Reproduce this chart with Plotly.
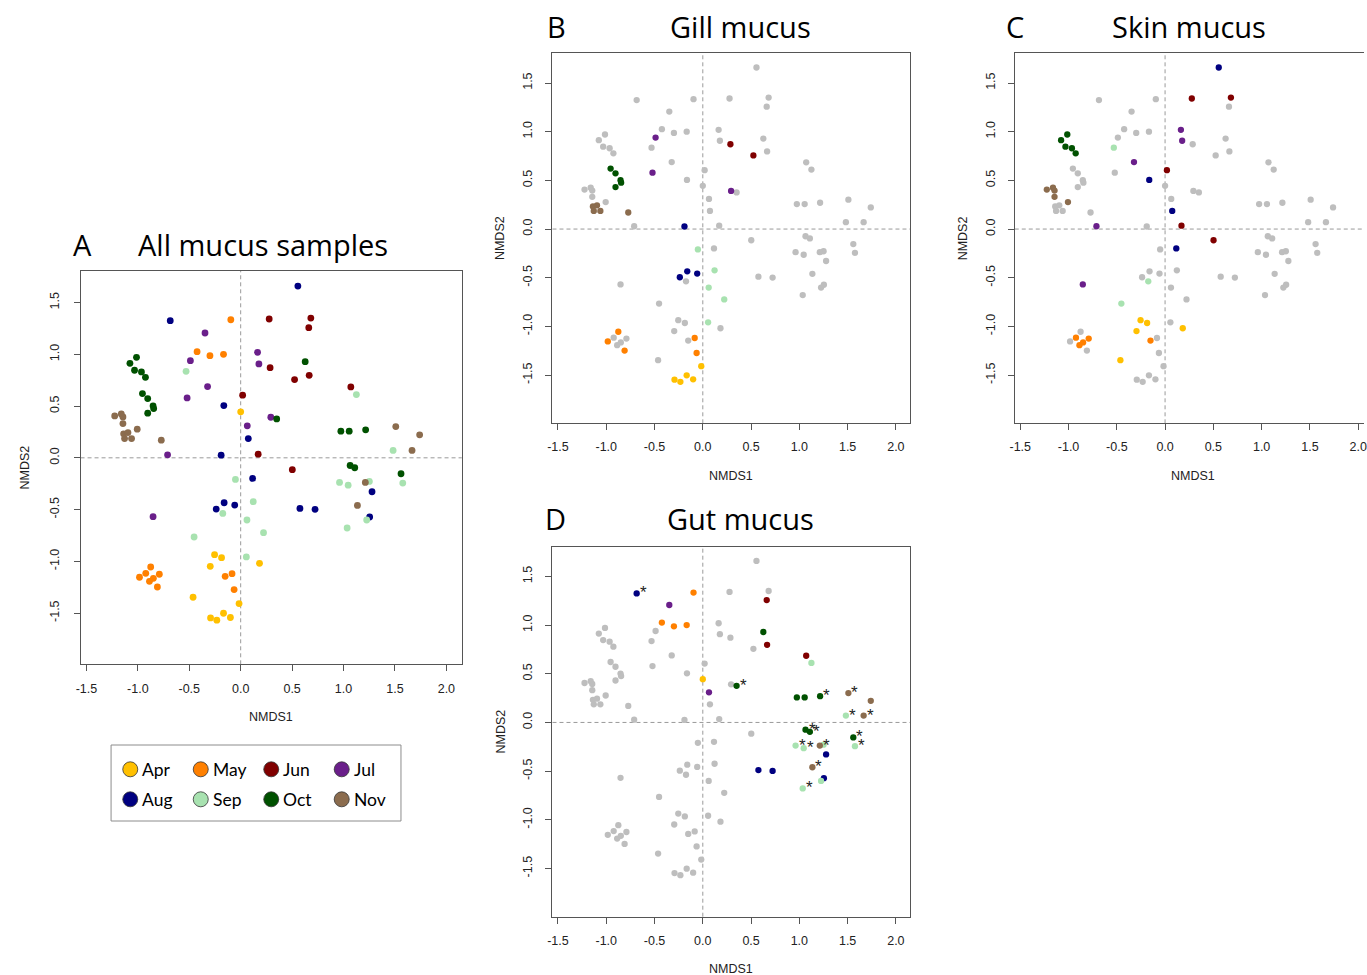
import plotly.graph_objects as go

W, H = 1367, 975

# ---------------- data ----------------
MONTHS = ["Apr", "May", "Jun", "Jul", "Aug", "Sep", "Oct", "Nov"]
MONTH_COLORS = ["#FFC000", "#FF8000", "#800000", "#6A1F8A",
                "#000080", "#A8E2B0", "#005100", "#8B6C4E"]
GREY = "#BEBEBE"

NMDS1 = [
    # Apr
    0.000, -0.254, -0.186, -0.296, 0.183, -0.463, -0.016, -0.167, -0.293, -0.232, -0.100,
    # May
    -0.096, -0.424, -0.299, -0.167, -0.875, -0.984, -0.810, -0.084, -0.064,
    -0.923, -0.887, -0.849, -0.791, -0.151,
    # Jun
    0.286, 0.524, 0.277, 0.682, 0.019, 0.170, 0.502, 0.662, 0.666, 1.071,
    # Jul
    -0.489, -0.521, 0.293, 0.164, 0.177, -0.322, -0.711, -0.852, -0.347, 0.064,
    # Aug
    -0.190, -0.161, -0.058, -0.238, 0.556, -0.164, 0.074, 0.116,
    -0.685, 0.576, 0.723, 1.277, 1.254,
    # Sep
    -0.051, 0.122, 0.061, 0.222, 0.055, -0.531, -0.174, -0.453,
    1.125, 1.482, 0.961, 1.045, 1.251, 1.576, 1.225, 1.035,
    # Oct
    -1.013, -1.077, -1.032, -0.965, -0.926, -0.955, -0.904, -0.852, -0.846, -0.904,
    0.627, 0.350, 0.974, 1.055, 1.215, 1.064, 1.109, 1.559,
    # Nov
    -1.225, -1.161, -1.145, -1.145, -1.006, -1.138, -1.096, -1.129, -1.061, -0.772,
    1.508, 1.740, 1.666, 1.212, 1.135,
]
NMDS2 = [
    # Apr
    0.444, -0.936, -0.965, -1.048, -1.019, -1.347, -1.408, -1.502, -1.547, -1.569, -1.543,
    # May
    1.334, 1.026, 0.987, 1.000, -1.055, -1.154, -1.248, -1.119, -1.273,
    -1.116, -1.193, -1.164, -1.125, -1.145,
    # Jun
    0.871, 0.756, 1.341, 1.350, 0.605, 0.035, -0.115, 1.257, 0.797, 0.685,
    # Jul
    0.939, 0.579, 0.392, 1.019, 0.907, 0.688, 0.029, -0.569, 1.206, 0.309,
    # Aug
    0.026, -0.434, -0.457, -0.495, 1.659, 0.505, 0.186, -0.199,
    1.325, -0.489, -0.498, -0.328, -0.572,
    # Sep
    -0.209, -0.424, -0.601, -0.723, -0.958, 0.836, -0.537, -0.765,
    0.611, 0.071, -0.238, -0.264, -0.228, -0.244, -0.601, -0.678,
    # Oct
    0.971, 0.913, 0.846, 0.830, 0.778, 0.621, 0.572, 0.502, 0.476, 0.431,
    0.929, 0.376, 0.257, 0.257, 0.270, -0.074, -0.096, -0.154,
    # Nov
    0.405, 0.424, 0.395, 0.331, 0.277, 0.232, 0.244, 0.186, 0.186, 0.170,
    0.302, 0.222, 0.071, -0.238, -0.460,
]
MONTH = (["Apr"] * 11 + ["May"] * 14 + ["Jun"] * 10 + ["Jul"] * 10 +
         ["Aug"] * 13 + ["Sep"] * 16 + ["Oct"] * 18 + ["Nov"] * 15)
TISSUE = (
    ["Gut"] + ["Skin"] * 5 + ["Gill"] * 5 +                       # Apr
    ["Gut"] * 4 + ["Gill"] * 5 + ["Skin"] * 5 +                   # May
    ["Gill"] * 2 + ["Skin"] * 5 + ["Gut"] * 3 +                   # Jun
    ["Gill"] * 3 + ["Skin"] * 5 + ["Gut"] * 2 +                   # Jul
    ["Gill"] * 4 + ["Skin"] * 4 + ["Gut"] * 5 +                   # Aug
    ["Gill"] * 5 + ["Skin"] * 3 + ["Gut"] * 8 +                   # Sep
    ["Skin"] * 5 + ["Gill"] * 5 + ["Gut"] * 8 +                   # Oct
    ["Skin"] * 5 + ["Gill"] * 5 + ["Gut"] * 5                     # Nov
)
STAR = (
    [0] * 11 + [0] * 14 + [0] * 10 + [0] * 10 +
    [0, 0, 0, 0, 0, 0, 0, 0, 1, 0, 0, 0, 0] +
    [0, 0, 0, 0, 0, 0, 0, 0, 0, 1, 1, 1, 0, 1, 0, 1] +
    [0, 0, 0, 0, 0, 0, 0, 0, 0, 0, 0, 1, 0, 0, 1, 1, 1, 1] +
    [0, 0, 0, 0, 0, 0, 0, 0, 0, 0, 1, 0, 1, 1, 1]
)

X_TICKS = [-1.5, -1.0, -0.5, 0.0, 0.5, 1.0, 1.5, 2.0]
Y_TICKS = [-1.5, -1.0, -0.5, 0.0, 0.5, 1.0, 1.5]
X_RANGE = [-1.557, 2.150]
Y_RANGE = [-1.995, 1.805]

# ---------------- layout helpers ----------------
BOX = "#555555"
NUM_FONT = "Liberation Sans, Arial, sans-serif"
TITLE_FONT = "Open Sans, Lato, sans-serif"


def px(xp):
    return xp / W


def py(yp):
    return 1 - yp / H


# panel boxes in pixels: left, top, right, bottom ; marker size ; label offsets
PANELS = [
    ("A", "All mucus samples", None, "", (76.0, 271.0, 459.5, 664.3), 6.8, 7, 10, 56),
    ("B", "Gill mucus", "Gill", "2", (550.7, 53.3, 910.7, 423.3), 6.3, 6, 8, 52),
    ("C", "Skin mucus", "Skin", "3", (1015.7, 53.3, 1375.7, 423.3), 6.3, 6, 8, 52),
    ("D", "Gut mucus", "Gut", "4", (550.7, 546.7, 910.7, 916.7), 6.3, 6, 8, 52),
]

fig = go.Figure()
layout = dict(
    width=W, height=H, margin=dict(l=0, r=0, t=0, b=0),
    paper_bgcolor="white", plot_bgcolor="rgba(0,0,0,0)", showlegend=False,
)
annotations = []
shapes = []

color_of = dict(zip(MONTHS, MONTH_COLORS))

for letter, title, tissue, sfx, (L, T, R, B), msize, xso, yso, ytoff in PANELS:
    xa, ya = "x" + sfx, "y" + sfx
    if tissue is not None:
        gx = [x for x, t in zip(NMDS1, TISSUE) if t != tissue]
        gy = [y for y, t in zip(NMDS2, TISSUE) if t != tissue]
        fig.add_trace(go.Scatter(x=gx, y=gy, mode="markers", xaxis=xa, yaxis=ya,
                                 marker=dict(size=msize, color=GREY, line=dict(width=0)),
                                 hoverinfo="skip"))
    for m in MONTHS:
        sx = [x for x, mm, t in zip(NMDS1, MONTH, TISSUE) if mm == m and (tissue is None or t == tissue)]
        sy = [y for y, mm, t in zip(NMDS2, MONTH, TISSUE) if mm == m and (tissue is None or t == tissue)]
        fig.add_trace(go.Scatter(x=sx, y=sy, mode="markers", xaxis=xa, yaxis=ya, name=m,
                                 marker=dict(size=msize, color=color_of[m], line=dict(width=0))))
    unit = (R - L) / (X_RANGE[1] - X_RANGE[0])
    xr_right = X_RANGE[1]
    dom_r = R
    if R > W:
        dom_r = W
        xr_right = X_RANGE[0] + (W - L) / unit
    common = dict(showgrid=False, zeroline=False, ticks="outside", ticklen=6,
                  tickwidth=1, tickcolor=BOX, showline=True, linecolor=BOX, linewidth=1,
                  ticklabeloverflow="allow",
                  tickfont=dict(family=NUM_FONT, size=12.5, color="#222222"))
    layout["xaxis" + sfx] = dict(common, domain=[px(L), px(dom_r)], range=[X_RANGE[0], xr_right],
                                 tickvals=X_TICKS, ticktext=["%.1f" % v for v in X_TICKS],
                                 anchor=ya, mirror=True, ticklabelstandoff=xso)
    layout["yaxis" + sfx] = dict(common, domain=[py(B), py(T)], range=Y_RANGE,
                                 tickvals=Y_TICKS, ticktext=["%.1f" % v for v in Y_TICKS],
                                 anchor=xa, mirror=(R <= W), tickangle=-90, ticklabelstandoff=yso)
    shapes.append(dict(type="line", xref=xa, x0=0, x1=0, yref=ya + " domain", y0=0, y1=1,
                       line=dict(color="#9A9A9A", width=1, dash="4px,3px"), layer="below"))
    shapes.append(dict(type="line", yref=ya, y0=0, y1=0, xref=xa + " domain", x0=0, x1=1,
                       line=dict(color="#9A9A9A", width=1, dash="4px,3px"), layer="below"))
    cx = (L + R) / 2 - 0.5 if R <= W else L + 179.3
    annotations.append(dict(text="NMDS1", xref="paper", yref="paper", x=px(cx),
                            y=py(B + 52.5), showarrow=False, xanchor="center", yanchor="middle",
                            font=dict(family=NUM_FONT, size=12.5, color="#222222")))
    annotations.append(dict(text="NMDS2", xref="paper", yref="paper", x=px(L - ytoff),
                            y=py((T + B) / 2), showarrow=False, xanchor="center", yanchor="middle",
                            textangle=-90, font=dict(family=NUM_FONT, size=12.5, color="#222222")))

TITLE_POS = {"A": (66.0, 259.7, 244.5), "B": (543.0, 740.3, 26.5),
             "C": (1004.7, 1191.3, 26.5), "D": (541.3, 740.0, 518.5)}
for letter, title, tissue, sfx, box, msize, xso, yso, ytoff in PANELS:
    lx, tx, ty = TITLE_POS[letter]
    annotations.append(dict(text=letter, xref="paper", yref="paper", x=px(lx), y=py(ty),
                            xanchor="left", yanchor="middle", showarrow=False,
                            font=dict(family=TITLE_FONT, size=29, color="black")))
    annotations.append(dict(text=title, xref="paper", yref="paper", x=px(tx), y=py(ty),
                            xanchor="center", yanchor="middle", showarrow=False,
                            font=dict(family=TITLE_FONT, size=29, color="black")))

for x, y, t, s in zip(NMDS1, NMDS2, TISSUE, STAR):
    if s and t == "Gut":
        annotations.append(dict(text="*", xref="x4", yref="y4", x=x, y=y, xshift=6.5, yshift=0.5,
                                showarrow=False, xanchor="center", yanchor="middle",
                                font=dict(family=NUM_FONT, size=17, color="#222222")))

# ---------------- legend (manual, 4 x 2 grid) ----------------
LEG_BOX = (106.7, 745.0, 398.3, 821.0)
shapes.append(dict(type="rect", xref="paper", yref="paper", x0=px(LEG_BOX[0]), x1=px(LEG_BOX[2]),
                   y0=py(LEG_BOX[3]), y1=py(LEG_BOX[1]), line=dict(color="#8C8C8C", width=1),
                   fillcolor="rgba(0,0,0,0)"))
leg_x = [126.0 + 70.9 * (i % 4) for i in range(len(MONTHS))]
leg_y = [769.3 + 30.0 * (i // 4) for i in range(len(MONTHS))]
fig.add_trace(go.Scatter(x=leg_x, y=leg_y, mode="markers", xaxis="x5", yaxis="y5",
                         marker=dict(size=15, color=MONTH_COLORS, line=dict(color="#333333", width=0.8)),
                         hoverinfo="skip"))
for m, lx, ly in zip(MONTHS, leg_x, leg_y):
    annotations.append(dict(text=m, xref="x5", yref="y5", x=lx + 10, y=ly, xanchor="left",
                            yanchor="middle", showarrow=False,
                            font=dict(family="Lato, sans-serif", size=17.5, color="black")))
layout["xaxis5"] = dict(domain=[px(LEG_BOX[0]), px(LEG_BOX[2])], range=[LEG_BOX[0], LEG_BOX[2]],
                        visible=False, anchor="y5", fixedrange=True)
layout["yaxis5"] = dict(domain=[py(LEG_BOX[3]), py(LEG_BOX[1])], range=[LEG_BOX[3], LEG_BOX[1]],
                        visible=False, anchor="x5", fixedrange=True)

layout["annotations"] = annotations
layout["shapes"] = shapes
fig.update_layout(**layout)
fig.write_html("out.html")
